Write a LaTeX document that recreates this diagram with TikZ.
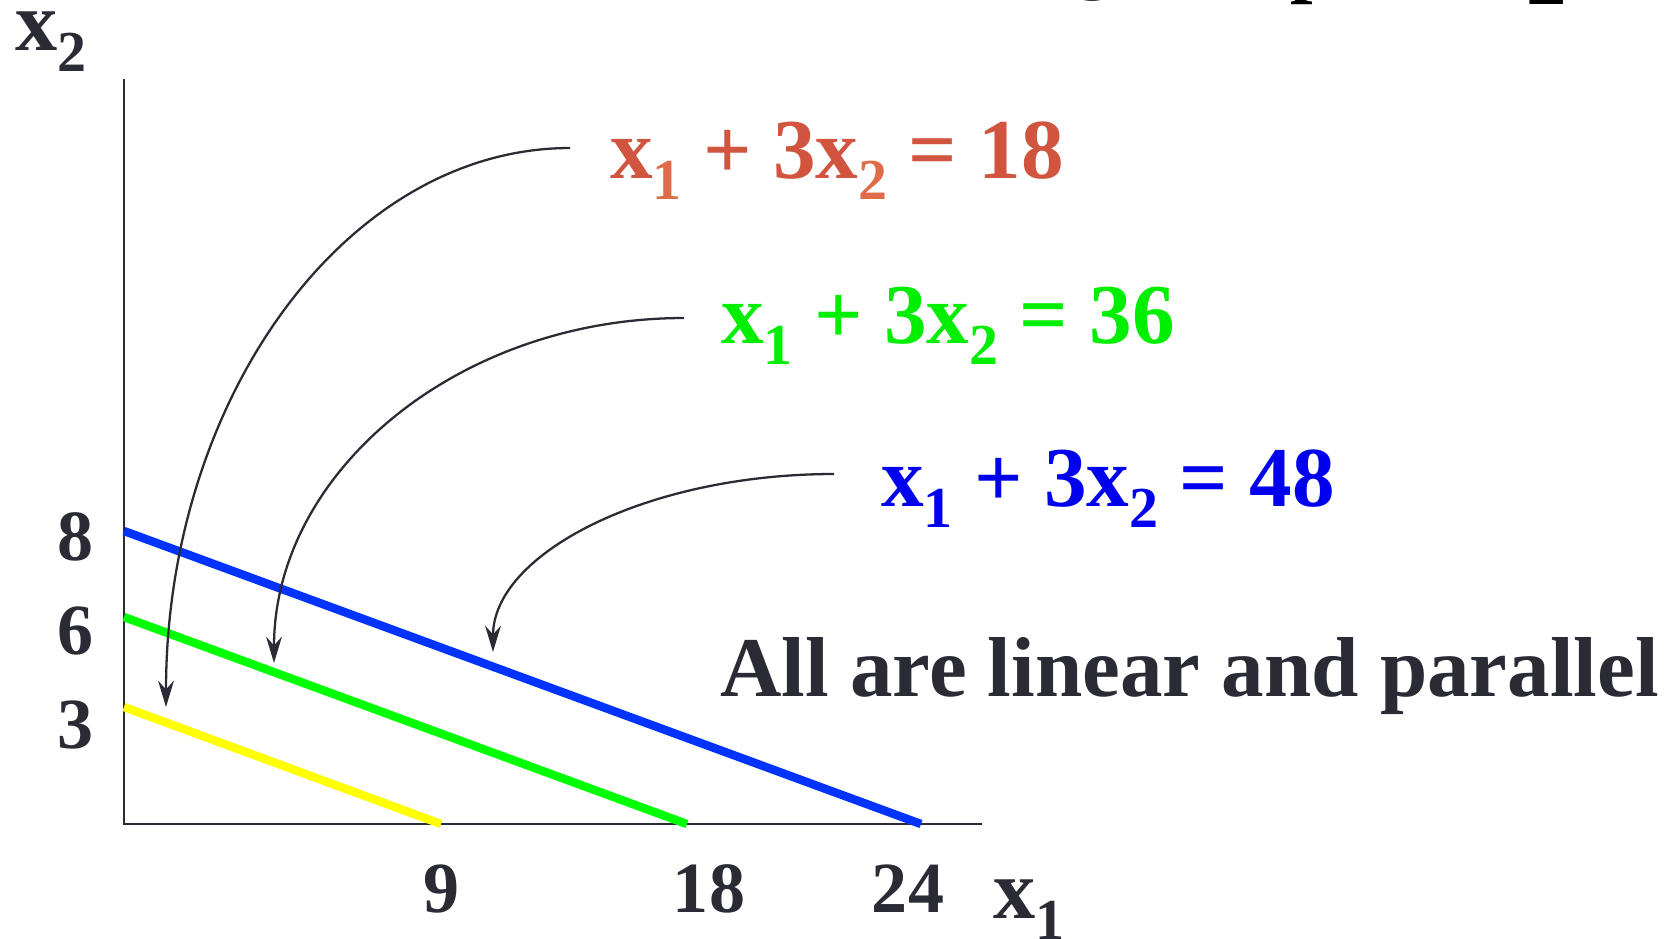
\documentclass[tikz,border=0pt]{standalone}
\usepackage{fontspec}
\setmainfont{Liberation Serif}
\usetikzlibrary{arrows.meta}
\definecolor{dk}{HTML}{2B2B35}
\definecolor{eqred}{HTML}{D0543E}
\definecolor{subred}{HTML}{E06B4B}
\definecolor{eqgreen}{HTML}{00EE00}
\definecolor{lngreen}{HTML}{00FF00}
\definecolor{eqblue}{HTML}{0000EE}
\definecolor{lnblue}{HTML}{0033FF}
\definecolor{lnyellow}{HTML}{FFFF00}
\newcommand{\lowsub}[1]{\raisebox{-0.25em}{\fontsize{33}{33}\selectfont #1}}
\begin{document}
\begin{tikzpicture}[x=0.02cm,y=-0.02cm,
  every node/.style={inner sep=0pt},
  axisline/.style={draw=dk, line width=1.6pt},
  cline/.style={line width=4.8pt},
  callout/.style={draw=dk, line width=1.3pt, -{Stealth[length=15pt,width=9pt,inset=5pt]}},
  eqtext/.style={font=\fontsize{48.5}{58}\selectfont\bfseries, anchor=base west},
  ticklab/.style={font=\fontsize{41}{49}\selectfont\bfseries, text=dk, anchor=base},
  axlab/.style={font=\fontsize{48}{58}\selectfont\bfseries, text=dk, anchor=base west},
  frag/.style={font=\fontsize{46}{56}\selectfont\bfseries, text=black}]
\useasboundingbox (0,0) rectangle (1680,938);

% clipped title fragments at the top edge
\begin{scope}
\clip (0,0) rectangle (1680,5);
\node[frag, anchor=south] (fg) at (1094,2) {g};
\node[frag, anchor=south west] (fp) at (1290,5) {p};
\node[frag, anchor=south west] (f2) at (1526,5) {2};
\end{scope}

% axes
\coordinate (O) at (124,824);
\coordinate (ytop) at (124,79);
\coordinate (xend) at (982,824);
\draw[axisline] (ytop) -- (O) -- (xend);

% lines
\coordinate (b0) at (124,531);
\coordinate (b1) at (921,824);
\coordinate (g0) at (124,617);
\coordinate (g1) at (687,824);
\coordinate (y0) at (124,707);
\coordinate (y1) at (441,824);
\draw[cline, draw=lnblue] (b0) -- (b1);
\draw[cline, draw=lngreen] (g0) -- (g1);
\draw[cline, draw=lnyellow] (y0) -- (y1);

% axis labels
\node[axlab] (lx2) at (15,50) {x\lowsub{2}};
\node[axlab] (lx1) at (993,918) {x\lowsub{1}};

% tick labels
\node[ticklab] (t8) at (76,560) {8};
\node[ticklab] (t6) at (76,654) {6};
\node[ticklab] (t3) at (76,748) {3};
\node[ticklab] (t9) at (442,912) {9};
\node[ticklab] (t18) at (709,912) {18};
\node[ticklab] (t24) at (908,912) {24};

% equations
\node[eqtext, text=eqred] (eqA) at (610,178) {x\textcolor{subred}{\lowsub{1}} + 3x\textcolor{subred}{\lowsub{2}} = 18};
\node[eqtext, text=eqgreen] (eqB) at (721,343) {x\lowsub{1} + 3x\lowsub{2} = 36};
\node[eqtext, text=eqblue] (eqC) at (881,506) {x\lowsub{1} + 3x\lowsub{2} = 48};

\node[font=\fontsize{48.4}{58}\selectfont\bfseries, text=dk, anchor=base west] (note) at (720,696) {All are linear and parallel};

% callout arrows
\coordinate (sA) at (570,148);
\coordinate (tA) at (166,707);
\coordinate (sB) at (684,318);
\coordinate (tB) at (274,663);
\coordinate (sC) at (834,474);
\coordinate (tC) at (493,652);
\draw[callout] (sA) .. controls +(-223,0) and +(0,-309) .. (tA);
\draw[callout] (sB) .. controls +(-226,0) and +(0,-191) .. (tB);
\draw[callout] (sC) .. controls +(-188,0) and +(0,-98) .. (tC);
\end{tikzpicture}
\end{document}
